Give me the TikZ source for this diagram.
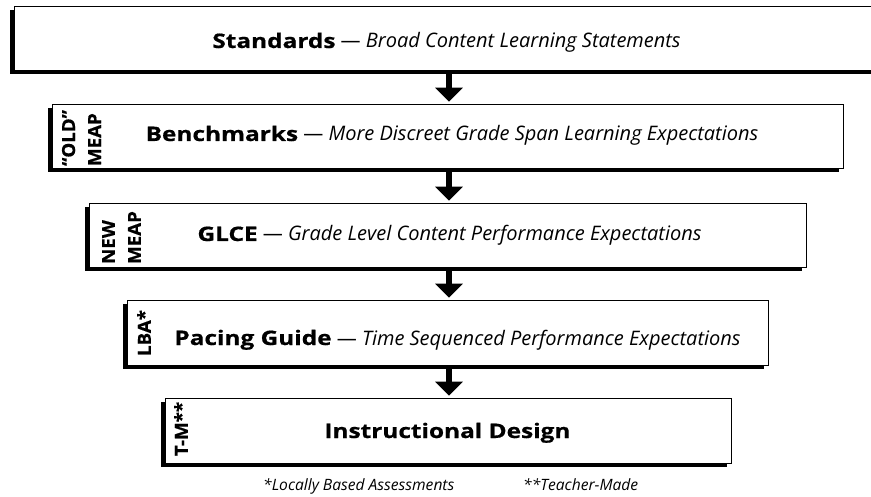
\documentclass[tikz,border=0pt]{standalone}
\usepackage{fontspec}
\setmainfont{Open Sans}
\newfontfamily\widebold{Open Sans}[FakeStretch=1.22,FakeBold=0.6]
\newfontfamily\sidebold{Open Sans}[FakeStretch=1.04,FakeBold=0.6]
\usetikzlibrary{arrows.meta,shadows}
\tikzset{
 box/.style={draw=black,line width=0.8pt,fill=white,inner sep=0pt,
   drop shadow={shadow xshift=-4pt,shadow yshift=-4pt,fill=black,opacity=1}},
 maintext/.style={font=\fontsize{20}{24}\selectfont, inner sep=0pt, anchor=base},
 sidelabel/.style={font=\fontsize{18}{26}\selectfont\sidebold\bfseries, rotate=90, align=left, inner sep=0pt},
 flow/.style={line width=5.3pt, -{Triangle[width=27pt,length=14pt]}, shorten >=2pt},
 note/.style={font=\fontsize{15.6}{18}\selectfont\itshape, inner sep=0pt, anchor=base west}
}
\newcommand{\headw}[1]{{\widebold\bfseries #1}}
\begin{document}
\begin{tikzpicture}[x=1pt,y=-1pt]
\useasboundingbox (0,0) rectangle (871,497);
\clip (0,0) rectangle (871,497);
\coordinate (ax) at (449,0);
% boxes
\node[box, minimum width=886pt, minimum height=64pt] (b1) at (457,38) {};
\node[box, minimum width=791pt, minimum height=64pt] (b2) at (447.5,136) {};
\node[box, minimum width=717pt, minimum height=64pt] (b3) at (447.5,235) {};
\node[box, minimum width=641pt, minimum height=65pt] (b4) at (447.5,332.5) {};
\node[box, minimum width=566pt, minimum height=65pt] (b5) at (448,430.5) {};
% arrows
\draw[flow] (b1.south -| ax) -- (b2.north -| ax);
\draw[flow] (b2.south -| ax) -- (b3.north -| ax);
\draw[flow] (b3.south -| ax) -- (b4.north -| ax);
\draw[flow] (b4.south -| ax) -- (b5.north -| ax);
% main texts
\node[maintext] (t1) at (446.5,48) {\headw{Standards} — \textit{Broad Content Learning Statements}};
\node[maintext] (t2) at (452,141) {\headw{Benchmarks} — \textit{More Discreet Grade Span Learning Expectations}};
\node[maintext] (t3) at (449.5,241) {\headw{GLCE} — \textit{Grade Level Content Performance Expectations}};
\node[maintext] (t4) at (457.5,345) {\headw{Pacing Guide} — \textit{Time Sequenced Performance Expectations}};
\node[maintext] (t5) at (447.5,438) {\headw{Instructional Design}};
% side labels
\node[sidelabel] (s2) at (81.5,138) {“OLD”\\MEAP};
\node[sidelabel] (s3) at (121.5,237.5) {NEW\\MEAP};
\node[sidelabel] (s4) at (144,333) {LBA*};
\node[sidelabel] (s5) at (181,429) {T-M**};
% notes
\node[note] (n1) at (263,490) {*Locally Based Assessments};
\node[note] (n2) at (523,490) {**Teacher-Made};
\end{tikzpicture}
\end{document}
